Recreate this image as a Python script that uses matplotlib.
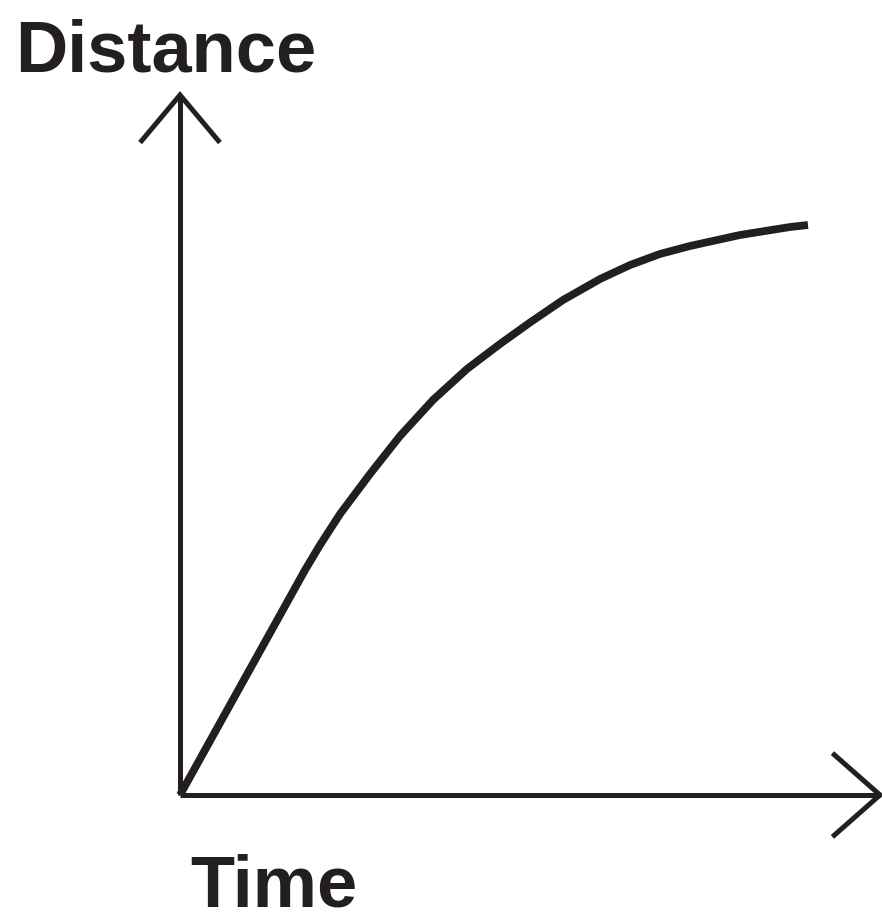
import matplotlib
matplotlib.use("Agg")
import matplotlib.pyplot as plt

# Data (time, distance), arbitrary units
time = [0.0, 0.714, 1.429, 1.786, 2.000, 2.286, 2.714, 3.143, 3.614, 4.100, 4.571,
        5.000, 5.471, 6.000, 6.429, 6.857, 7.286, 8.000, 8.714, 8.971]
distance = [0.0, 1.286, 2.571, 3.214, 3.571, 4.014, 4.586, 5.129, 5.643, 6.086, 6.443,
            6.750, 7.071, 7.371, 7.571, 7.729, 7.843, 8.000, 8.114, 8.143]
x_label = "Time"
y_label = "Distance"

ink = "#231f20"
W, H, DPI = 882, 922, 100
fig = plt.figure(figsize=(W / DPI, H / DPI), dpi=DPI)
ax = fig.add_axes([0, 0, 1, 1])
ax.set_xlim(-180 / 70, (W - 180) / 70)
ax.set_ylim(-(H - 795) / 70, 795 / 70)
ax.axis("off")

x_max, y_max = 10.0, 10.0
axis_lw = 3.6
# axes lines
ax.plot([0, 0], [0, y_max], color=ink, lw=axis_lw, solid_capstyle="butt")
ax.plot([0, x_max], [0, 0], color=ink, lw=axis_lw, solid_capstyle="butt")
# chevron arrowheads
ah_w, ah_l = 0.57, 0.68
ax.plot([-ah_w, 0, ah_w], [y_max - ah_l, y_max, y_max - ah_l], color=ink, lw=axis_lw,
        solid_joinstyle="miter", solid_capstyle="butt")
ax.plot([x_max - ah_l, x_max, x_max - ah_l], [ah_w * 1.05, 0, -ah_w * 1.05], color=ink, lw=axis_lw,
        solid_joinstyle="miter", solid_capstyle="butt")

# curve
ax.plot(time, distance, color=ink, lw=5.6, solid_joinstyle="round", solid_capstyle="butt")

font = dict(family="Liberation Sans", weight="bold", color=ink)
fig.text(15 / W, 1 - 72 / H, y_label, fontsize=52, ha="left", va="baseline", **font)
fig.text(190 / W, 1 - 906 / H, x_label, fontsize=52, ha="left", va="baseline", **font)

fig.savefig("out.png", dpi=DPI, facecolor="white")
